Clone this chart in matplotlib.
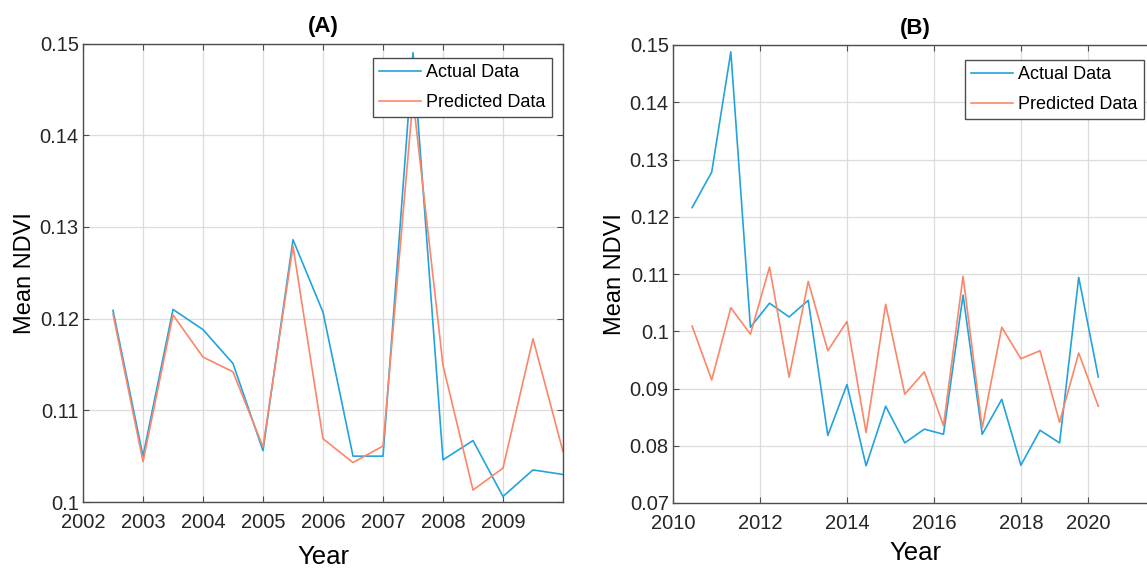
import numpy as np
import matplotlib
matplotlib.use("Agg")
import matplotlib.pyplot as plt
from matplotlib.ticker import FormatStrFormatter

plt.rcParams["font.family"] = ["Liberation Sans", "DejaVu Sans"]

# panel A: half-yearly values 2002.5 - 2010
years_a = [2002.5, 2003.0, 2003.5, 2004.0, 2004.5, 2005.0, 2005.5, 2006.0,
           2006.5, 2007.0, 2007.5, 2008.0, 2008.5, 2009.0, 2009.5, 2010.0]
actual_a = [0.1209, 0.1050, 0.1210, 0.1188, 0.1151, 0.1056, 0.1286, 0.1207,
            0.1050, 0.1050, 0.1490, 0.1046, 0.1067, 0.1006, 0.1035, 0.1030]
predicted_a = [0.1205, 0.1044, 0.1204, 0.1158, 0.1142, 0.1060, 0.1279, 0.1069,
               0.1043, 0.1061, 0.1440, 0.1149, 0.1013, 0.1037, 0.1178, 0.1055]

# panel B
years_b = [2010.44, 2010.89, 2011.33, 2011.78, 2012.22, 2012.67, 2013.11, 2013.56,
           2014.00, 2014.44, 2014.89, 2015.33, 2015.78, 2016.22, 2016.67, 2017.11,
           2017.56, 2018.00, 2018.44, 2018.89, 2019.33, 2019.78]
actual_b = [0.1216, 0.1278, 0.1488, 0.1007, 0.1049, 0.1025, 0.1054, 0.0818,
            0.0907, 0.0765, 0.0869, 0.0805, 0.0829, 0.0820, 0.1063, 0.0820,
            0.0881, 0.0766, 0.0827, 0.0805, 0.1094, 0.0920]
predicted_b = [0.1009, 0.0915, 0.1041, 0.0995, 0.1112, 0.0920, 0.1087, 0.0966,
               0.1017, 0.0823, 0.1047, 0.0890, 0.0929, 0.0835, 0.1096, 0.0831,
               0.1007, 0.0952, 0.0966, 0.0841, 0.0962, 0.0869]

ticks_a = [2002, 2003, 2004, 2005, 2006, 2007, 2008, 2009]
tick_labels_a = ["2002", "2003", "2004", "2005", "2006", "2007", "2008", "2009"]
ticks_b = [2010, 2012, 2014, 2016, 2018, 2019.55]
tick_labels_b = ["2010", "2012", "2014", "2016", "2018", "2020"]

BLUE = "#22a3dd"
ORANGE = "#fb8669"
W, H = 1147, 569

fig = plt.figure(figsize=(W / 100, H / 100), dpi=100)


def style_axes(ax):
    for s in ax.spines.values():
        s.set_color("#4d4d4d")
        s.set_linewidth(1.0)
    ax.grid(True, color="#dcdcdc", linewidth=0.9)
    ax.set_axisbelow(True)
    ax.tick_params(direction="in", top=True, right=True, length=4,
                   color="#4d4d4d", labelsize=14.5, labelcolor="#262626")
    ax.tick_params(axis="x", pad=8)
    ax.tick_params(axis="y", pad=3)
    ax.yaxis.set_major_formatter(FormatStrFormatter("%g"))


def add_legend(ax, right_px, top_px):
    leg = ax.legend(loc="upper right", bbox_to_anchor=(right_px / W, 1 - top_px / H),
                    bbox_transform=fig.transFigure, borderaxespad=0, fancybox=False,
                    framealpha=1, edgecolor="#4d4d4d", fontsize=13,
                    handlelength=2.3, handletextpad=0.3, labelspacing=0.7,
                    borderpad=0.35)
    leg.get_frame().set_linewidth(1.0)


# (A)
ax1 = fig.add_axes([83 / W, 1 - 502 / H, 480 / W, 458.5 / H])
ax1.plot(years_a, actual_a, color=BLUE, lw=1.2, label="Actual Data")
ax1.plot(years_a, predicted_a, color=ORANGE, lw=1.2, label="Predicted Data")
ax1.set_xlim(2002, 2010)
ax1.set_ylim(0.1, 0.15)
ax1.set_xticks(ticks_a + [2010])
ax1.set_xticklabels(tick_labels_a + [""])
ax1.set_yticks([0.1, 0.11, 0.12, 0.13, 0.14, 0.15])
style_axes(ax1)
ax1.set_title("(A)", fontsize=16, fontweight="bold", pad=8)
ax1.set_xlabel("Year", fontsize=18.5, labelpad=9)
ax1.set_ylabel("Mean NDVI", fontsize=17, labelpad=3)
add_legend(ax1, 551.7, 58)

# (B)
ax2 = fig.add_axes([673 / W, 1 - 503 / H, 484 / W, 458 / H])
ax2.plot(years_b, actual_b, color=BLUE, lw=1.2, label="Actual Data")
ax2.plot(years_b, predicted_b, color=ORANGE, lw=1.2, label="Predicted Data")
ax2.set_xlim(2010, 2021.13)
ax2.set_ylim(0.07, 0.15)
ax2.set_xticks(ticks_b)
ax2.set_xticklabels(tick_labels_b)
ax2.set_yticks([0.07, 0.08, 0.09, 0.1, 0.11, 0.12, 0.13, 0.14, 0.15])
style_axes(ax2)
ax2.set_title("(B)", fontsize=16, fontweight="bold", pad=8)
ax2.set_xlabel("Year", fontsize=18.5, labelpad=6)
ax2.set_ylabel("Mean NDVI", fontsize=17, labelpad=3)
add_legend(ax2, 1144, 60)

fig.savefig("out.png", dpi=100)
